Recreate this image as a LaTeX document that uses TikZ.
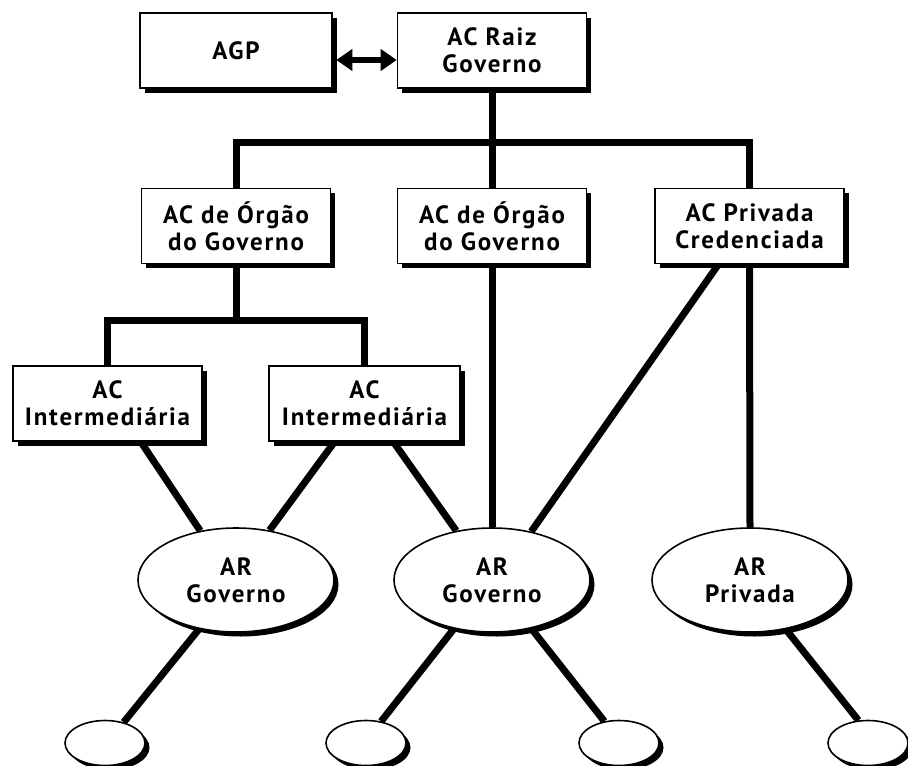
\documentclass[tikz,border=0pt]{standalone}
\usepackage{fontspec}
\setmainfont{PT Sans}[LetterSpace=7]
\usetikzlibrary{shadows,backgrounds,arrows.meta,shapes.geometric}
\begin{document}
\begin{tikzpicture}[x=1pt,y=-1pt,
  shad/.style={drop shadow={shadow xshift=4.5pt,shadow yshift=-4.5pt,fill=black,opacity=1}},
  txt/.style={font=\bfseries\fontsize{25}{27}\selectfont},
  box/.style={draw,line width=1.6pt,fill=white,minimum width=189pt,minimum height=75pt,
    align=center,inner sep=0pt,txt,shad},
  oval/.style={ellipse,draw,line width=1.6pt,fill=white,minimum width=196pt,minimum height=104pt,
    align=center,inner sep=0pt,txt,shad},
  leaf/.style={ellipse,draw,line width=1.6pt,fill=white,minimum width=80pt,minimum height=45pt,
    inner sep=0pt,shad},
  conn/.style={line width=7pt,line join=miter,black},
  dbl/.style={line width=6pt,{Triangle[length=16pt,width=21pt]}-{Triangle[length=16pt,width=21pt]}}]
\useasboundingbox (0,0) rectangle (908,766);
% boxes
\node[box,minimum width=192pt] (agp) at (236,50.5) {AGP};
\node[box] (raiz) at (492,50.5) {AC Raiz\\Governo};
\node[box] (o1) at (236,226) {AC de Órgão\\do Governo};
\node[box] (o2) at (492,226) {AC de Órgão\\do Governo};
\node[box] (o3) at (749.5,226) {AC Privada\\Credenciada};
\node[box] (ia) at (107.5,403.5) {AC\\Intermediária};
\node[box,minimum width=191pt] (ib) at (364.5,403.5) {AC\\Intermediária};
% ellipses
\node[oval] (e1) at (236,580) {AR\\Governo};
\node[oval] (e2) at (492,580) {AR\\Governo};
\node[oval] (e3) at (750,580) {AR\\Privada};
\node[leaf] (s1) at (105,743) {};
\node[leaf] (s2) at (366,743) {};
\node[leaf] (s3) at (619,743) {};
\node[leaf] (s4) at (868,743) {};
\coordinate (bar1) at (492,142);
\coordinate (bar2) at (236,320);
% arrow
\draw[dbl] ([yshift=-9.5pt,xshift=3.5pt]agp.east) -- ([yshift=-9.5pt]raiz.west);
% connectors
\begin{scope}[on background layer]
\draw[conn] (raiz.south) -- (o2.north);
\draw[conn] (o1.north) |- (bar1) -| (o3.north);
\draw[conn] (o1.south) -- (bar2);
\draw[conn] (ia.north) |- (bar2) -| (ib.north);
\draw[conn] (ia.-49) -- (e1.126);
\draw[conn] (ib.-128) -- (e1.56);
\draw[conn] (ib.-53) -- (e2.126);
\draw[conn] (o2.south) -- (e2.north);
\draw[conn] (o3.-129) -- (e2.51);
\draw[conn] (o3.south) -- (e3.north);
\draw[conn] (e1.-127) -- (s1.48);
\draw[conn] (e2.-128) -- (s2.55);
\draw[conn] (e2.-51) -- (s3.124);
\draw[conn] (e3.-54) -- (s4.113);
\end{scope}
\end{tikzpicture}
\end{document}
